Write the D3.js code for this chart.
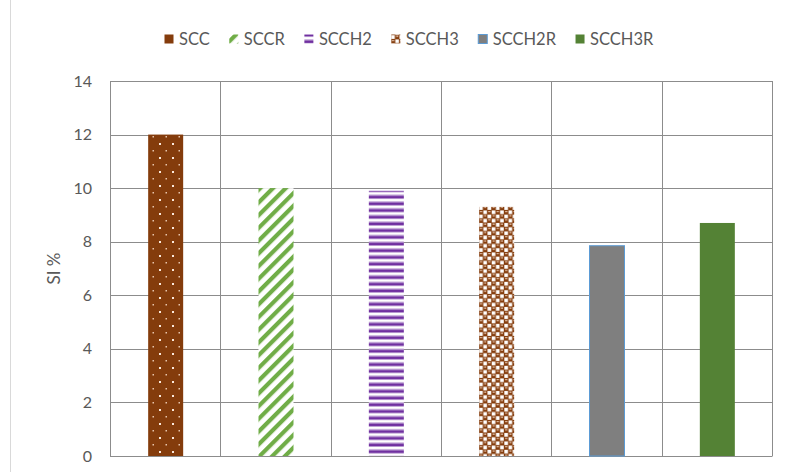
<!DOCTYPE html>
<html>
<head>
<meta charset="utf-8">
<script src="https://cdn.jsdelivr.net/npm/d3@7"></script>
<style>
  html, body { margin: 0; padding: 0; background: #fff; }
  svg { display: block; font-family: Lato, "Open Sans", sans-serif; }
</style>
</head>
<body>
<svg id="chart" width="785" height="472"></svg>
<script>
// Series data
const categories = ["SCC", "SCCR", "SCCH2", "SCCH3", "SCCH2R", "SCCH3R"];
const values = [12, 10, 9.9, 9.3, 7.85, 8.7];
const yTicks = [0, 2, 4, 6, 8, 10, 12, 14];
const yLabel = "SI %";

const W = 785, H = 472;
const margin = { left: 110, right: 13, top: 81, bottom: 16 };
const svg = d3.select("#chart");

// Fill patterns for each bar
const defs = svg.append("defs");

// SCC: brown with staggered white dots
const pDots = defs.append("pattern").attr("id", "p-scc").attr("patternUnits", "userSpaceOnUse")
  .attr("width", 13).attr("height", 14);
pDots.append("rect").attr("width", 13).attr("height", 14).attr("fill", "#843C0C");
pDots.append("rect").attr("x", 3).attr("y", 3).attr("width", 2).attr("height", 2).attr("fill", "#fbe9dc");
pDots.append("rect").attr("x", 9.5).attr("y", 10).attr("width", 1.5).attr("height", 1.5).attr("fill", "#e8c6ad");

// SCCR: green wide upward diagonal stripes
const pDiag = defs.append("pattern").attr("id", "p-sccr").attr("patternUnits", "userSpaceOnUse")
  .attr("width", 9).attr("height", 9).attr("patternTransform", "rotate(45)");
pDiag.append("rect").attr("width", 9).attr("height", 9).attr("fill", "#fff");
pDiag.append("rect").attr("x", 0).attr("width", 4.2).attr("height", 9).attr("fill", "#70AD47");

// SCCH2: purple horizontal stripes
const pHor = defs.append("pattern").attr("id", "p-scch2").attr("patternUnits", "userSpaceOnUse")
  .attr("width", 10).attr("height", 6.7);
pHor.append("rect").attr("width", 10).attr("height", 6.7).attr("fill", "#fff");
pHor.append("rect").attr("y", 0.4).attr("width", 10).attr("height", 1).attr("fill", "#b08fce");
pHor.append("rect").attr("y", 1.4).attr("width", 10).attr("height", 2.9).attr("fill", "#7030A0");

// SCCH3: brown shingle / checker with white windows
const pChk = defs.append("pattern").attr("id", "p-scch3").attr("patternUnits", "userSpaceOnUse")
  .attr("width", 8.4).attr("height", 8.4);
pChk.append("rect").attr("width", 8.4).attr("height", 8.4).attr("fill", "#843C0C");
pChk.append("rect").attr("x", 4.5).attr("y", 0.4).attr("width", 3.7).attr("height", 3.7).attr("fill", "#fff");
pChk.append("rect").attr("x", 0.3).attr("y", 4.6).attr("width", 3.7).attr("height", 3.7).attr("fill", "#fff");
pChk.append("rect").attr("x", 1.1).attr("y", 1.0).attr("width", 2.2).attr("height", 1.1).attr("fill", "#f0d2bd");
pChk.append("rect").attr("x", 5.3).attr("y", 5.2).attr("width", 2.2).attr("height", 1.1).attr("fill", "#f0d2bd");

const fills = ["url(#p-scc)", "url(#p-sccr)", "url(#p-scch2)", "url(#p-scch3)", "#7F7F7F", "#548235"];
const strokes = ["none", "none", "none", "none", "#5B9BD5", "none"];
const legendFills = ["#843C0C", "url(#p-sccr)", "url(#p-scch2)", "url(#p-scch3)", "#7F7F7F", "#548235"];

// Scales
const x = d3.scaleBand().domain(categories).range([margin.left, W - margin.right]).paddingInner(0).paddingOuter(0);
const y = d3.scaleLinear().domain([0, 14]).range([H - margin.bottom, margin.top]);

// Chart frame edge
svg.append("line").attr("x1", 10.5).attr("x2", 10.5).attr("y1", 0).attr("y2", H)
  .attr("stroke", "#d9d9d9").attr("stroke-width", 1);

const gridColor = "#8c8c8c";

// Horizontal gridlines
svg.append("g").selectAll("line").data(yTicks).join("line")
  .attr("x1", margin.left).attr("x2", W - margin.right)
  .attr("y1", d => Math.round(y(d)) + 0.5).attr("y2", d => Math.round(y(d)) + 0.5)
  .attr("stroke", gridColor).attr("stroke-width", 1);

// Vertical gridlines at category boundaries
const bounds = categories.map(c => x(c)).concat([x.range()[1]]);
svg.append("g").selectAll("line").data(bounds).join("line")
  .attr("x1", d => Math.round(d) + 0.5).attr("x2", d => Math.round(d) + 0.5)
  .attr("y1", margin.top).attr("y2", Math.round(y(0)) + 0.5)
  .attr("stroke", gridColor).attr("stroke-width", 1);

// Y axis labels
const yAxis = d3.axisLeft(y).tickValues(yTicks).tickSize(0).tickPadding(18);
const gy = svg.append("g").attr("transform", `translate(${margin.left},0)`).call(yAxis);
gy.select(".domain").remove();
gy.attr("font-size", null).attr("font-family", null);
gy.selectAll("text").attr("fill", "#595959").style("font-size", "16px");

// Y axis title
svg.append("text")
  .attr("transform", `translate(60,${(y(0) + y(14)) / 2}) rotate(-90)`)
  .attr("text-anchor", "middle").attr("fill", "#595959").style("font-size", "17px")
  .text(yLabel);

// Bars
const barW = 35;
svg.append("g").selectAll("rect").data(values).join("rect")
  .attr("x", (d, i) => x(categories[i]) + x.bandwidth() / 2 - barW / 2 + 0.5)
  .attr("y", d => y(d))
  .attr("width", barW)
  .attr("height", d => y(0) - y(d))
  .attr("fill", (d, i) => fills[i])
  .attr("stroke", (d, i) => strokes[i])
  .attr("stroke-width", 1);

// Legend
const legend = svg.append("g").attr("transform", "translate(164,39)");
let lx = 0;
categories.forEach((c, i) => {
  const g = legend.append("g").attr("transform", `translate(${lx},0)`);
  g.append("rect").attr("x", 0.5).attr("y", -4.5).attr("width", 9).attr("height", 9)
    .attr("fill", legendFills[i]).attr("stroke", strokes[i]);
  const t = g.append("text").attr("x", 15).attr("y", 0).attr("dy", "0.35em")
    .attr("fill", "#595959").style("font-size", "16.5px").text(c);
  lx += 15 + t.node().getComputedTextLength() + 19;
});
</script>
</body>
</html>
